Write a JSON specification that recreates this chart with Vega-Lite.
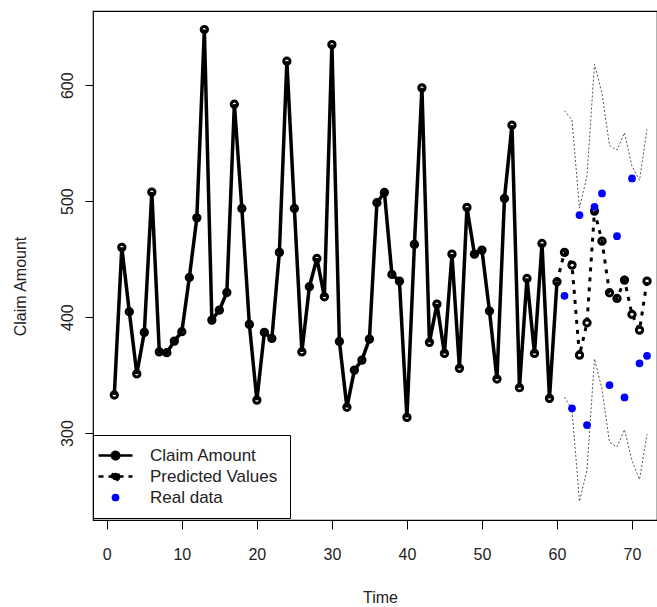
{
  "$schema": "https://vega.github.io/schema/vega-lite/v6.json",
  "width": 564,
  "height": 509,
  "autosize": {"type": "none"},
  "padding": {"left": 93, "top": 11, "right": 0, "bottom": 87},
  "background": "white",
  "config": {
    "view": {"stroke": "black", "strokeWidth": 1.2},
    "font": "Liberation Sans"
  },
  "datasets": {
    "d": [
      {"t": 1, "series": "Claim Amount", "v": 332.8},
      {"t": 2, "series": "Claim Amount", "v": 460.1},
      {"t": 3, "series": "Claim Amount", "v": 404.6},
      {"t": 4, "series": "Claim Amount", "v": 351},
      {"t": 5, "series": "Claim Amount", "v": 386.8},
      {"t": 6, "series": "Claim Amount", "v": 507.8},
      {"t": 7, "series": "Claim Amount", "v": 370},
      {"t": 8, "series": "Claim Amount", "v": 369.3},
      {"t": 9, "series": "Claim Amount", "v": 379.3},
      {"t": 10, "series": "Claim Amount", "v": 387.4},
      {"t": 11, "series": "Claim Amount", "v": 434.2},
      {"t": 12, "series": "Claim Amount", "v": 485.6},
      {"t": 13, "series": "Claim Amount", "v": 648},
      {"t": 14, "series": "Claim Amount", "v": 397.4},
      {"t": 15, "series": "Claim Amount", "v": 406},
      {"t": 16, "series": "Claim Amount", "v": 421.2},
      {"t": 17, "series": "Claim Amount", "v": 583.6},
      {"t": 18, "series": "Claim Amount", "v": 493.7},
      {"t": 19, "series": "Claim Amount", "v": 393.7},
      {"t": 20, "series": "Claim Amount", "v": 328.4},
      {"t": 21, "series": "Claim Amount", "v": 386.8},
      {"t": 22, "series": "Claim Amount", "v": 381.6},
      {"t": 23, "series": "Claim Amount", "v": 455.8},
      {"t": 24, "series": "Claim Amount", "v": 620.7},
      {"t": 25, "series": "Claim Amount", "v": 493.7},
      {"t": 26, "series": "Claim Amount", "v": 370},
      {"t": 27, "series": "Claim Amount", "v": 426.2},
      {"t": 28, "series": "Claim Amount", "v": 450.6},
      {"t": 29, "series": "Claim Amount", "v": 417.5},
      {"t": 30, "series": "Claim Amount", "v": 635},
      {"t": 31, "series": "Claim Amount", "v": 379},
      {"t": 32, "series": "Claim Amount", "v": 322.2},
      {"t": 33, "series": "Claim Amount", "v": 354.3},
      {"t": 34, "series": "Claim Amount", "v": 362.9},
      {"t": 35, "series": "Claim Amount", "v": 381},
      {"t": 36, "series": "Claim Amount", "v": 498.6},
      {"t": 37, "series": "Claim Amount", "v": 507.5},
      {"t": 38, "series": "Claim Amount", "v": 436.8},
      {"t": 39, "series": "Claim Amount", "v": 431},
      {"t": 40, "series": "Claim Amount", "v": 313.5},
      {"t": 41, "series": "Claim Amount", "v": 462.7},
      {"t": 42, "series": "Claim Amount", "v": 597.7},
      {"t": 43, "series": "Claim Amount", "v": 378.2},
      {"t": 44, "series": "Claim Amount", "v": 411.2},
      {"t": 45, "series": "Claim Amount", "v": 368.7},
      {"t": 46, "series": "Claim Amount", "v": 454.3},
      {"t": 47, "series": "Claim Amount", "v": 355.8},
      {"t": 48, "series": "Claim Amount", "v": 494.6},
      {"t": 49, "series": "Claim Amount", "v": 454.3},
      {"t": 50, "series": "Claim Amount", "v": 457.8},
      {"t": 51, "series": "Claim Amount", "v": 405.2},
      {"t": 52, "series": "Claim Amount", "v": 346.6},
      {"t": 53, "series": "Claim Amount", "v": 502.3},
      {"t": 54, "series": "Claim Amount", "v": 565.5},
      {"t": 55, "series": "Claim Amount", "v": 339.1},
      {"t": 56, "series": "Claim Amount", "v": 433.3},
      {"t": 57, "series": "Claim Amount", "v": 368.7},
      {"t": 58, "series": "Claim Amount", "v": 463.5},
      {"t": 59, "series": "Claim Amount", "v": 329.9},
      {"t": 60, "series": "Claim Amount", "v": 430.5},
      {"t": 60, "series": "Predicted Values", "v": 430.5},
      {"t": 61, "series": "Predicted Values", "v": 455.8},
      {"t": 62, "series": "Predicted Values", "v": 444.8},
      {"t": 63, "series": "Predicted Values", "v": 367.2},
      {"t": 64, "series": "Predicted Values", "v": 395.1},
      {"t": 65, "series": "Predicted Values", "v": 491.4},
      {"t": 66, "series": "Predicted Values", "v": 465.5},
      {"t": 67, "series": "Predicted Values", "v": 421},
      {"t": 68, "series": "Predicted Values", "v": 416.1},
      {"t": 69, "series": "Predicted Values", "v": 431.9},
      {"t": 70, "series": "Predicted Values", "v": 402.3},
      {"t": 71, "series": "Predicted Values", "v": 388.8},
      {"t": 72, "series": "Predicted Values", "v": 431},
      {"t": 61, "series": "Real data", "v": 418.4},
      {"t": 62, "series": "Real data", "v": 321.3},
      {"t": 63, "series": "Real data", "v": 488},
      {"t": 64, "series": "Real data", "v": 306.9},
      {"t": 65, "series": "Real data", "v": 495.1},
      {"t": 66, "series": "Real data", "v": 506.6},
      {"t": 67, "series": "Real data", "v": 341.4},
      {"t": 68, "series": "Real data", "v": 469.8},
      {"t": 69, "series": "Real data", "v": 330.7},
      {"t": 70, "series": "Real data", "v": 519.6},
      {"t": 71, "series": "Real data", "v": 360.1},
      {"t": 72, "series": "Real data", "v": 366.6},
      {"t": 61, "series": "Upper", "v": 578},
      {"t": 62, "series": "Upper", "v": 570},
      {"t": 63, "series": "Upper", "v": 494},
      {"t": 64, "series": "Upper", "v": 522},
      {"t": 65, "series": "Upper", "v": 618},
      {"t": 66, "series": "Upper", "v": 593},
      {"t": 67, "series": "Upper", "v": 548},
      {"t": 68, "series": "Upper", "v": 544},
      {"t": 69, "series": "Upper", "v": 559},
      {"t": 70, "series": "Upper", "v": 530},
      {"t": 71, "series": "Upper", "v": 518},
      {"t": 72, "series": "Upper", "v": 562},
      {"t": 61, "series": "Lower", "v": 331},
      {"t": 62, "series": "Lower", "v": 320},
      {"t": 63, "series": "Lower", "v": 241},
      {"t": 64, "series": "Lower", "v": 268},
      {"t": 65, "series": "Lower", "v": 364},
      {"t": 66, "series": "Lower", "v": 338},
      {"t": 67, "series": "Lower", "v": 292},
      {"t": 68, "series": "Lower", "v": 288},
      {"t": 69, "series": "Lower", "v": 303},
      {"t": 70, "series": "Lower", "v": 276},
      {"t": 71, "series": "Lower", "v": 260},
      {"t": 72, "series": "Lower", "v": 299}
    ]
  },
  "data": {"name": "d"},
  "encoding": {
    "x": {
      "field": "t",
      "type": "quantitative",
      "scale": {"domain": [-1.84, 73.33], "nice": false, "zero": false},
      "axis": {
        "values": [0, 10, 20, 30, 40, 50, 60, 70],
        "grid": false,
        "domain": false,
        "tickSize": 9,
        "tickColor": "black",
        "tickWidth": 1,
        "labelFontSize": 16,
        "labelColor": "#222",
        "labelPadding": 17,
        "labelFlush": false,
        "labelOverlap": false,
        "title": "Time",
        "titleFontSize": 16,
        "titleFontWeight": "normal",
        "titleColor": "#222",
        "titleX": 287,
        "titleY": 69,
        "titleBaseline": "top",
        "titleAlign": "center"
      }
    },
    "y": {
      "field": "v",
      "type": "quantitative",
      "scale": {"domain": [225, 664], "nice": false, "zero": false},
      "axis": {
        "values": [300, 400, 500, 600],
        "grid": false,
        "domain": false,
        "tickSize": 8,
        "tickColor": "black",
        "tickWidth": 1,
        "labelFontSize": 16,
        "labelColor": "#222",
        "labelAngle": 270,
        "labelAlign": "center",
        "labelBaseline": "bottom",
        "labelPadding": 10,
        "labelOverlap": false,
        "title": "Claim Amount",
        "titleFontSize": 16,
        "titleFontWeight": "normal",
        "titleColor": "#222",
        "titleAngle": 270,
        "titleAlign": "center",
        "titleBaseline": "bottom",
        "titleX": -65,
        "titleY": 275
      }
    }
  },
  "layer": [
    {
      "transform": [{"filter": "datum.series === 'Upper' || datum.series === 'Lower'"}],
      "mark": {"type": "line", "color": "#444", "strokeWidth": 0.9, "strokeDash": [2, 2]},
      "encoding": {"detail": {"field": "series", "type": "nominal"}}
    },
    {
      "transform": [{"filter": "datum.series === 'Claim Amount'"}],
      "mark": {"type": "line", "strokeWidth": 3.5},
      "encoding": {
        "color": {
          "field": "series",
          "type": "nominal",
          "scale": {"domain": ["Claim Amount", "Predicted Values", "Real data"], "range": ["black", "black", "blue"]},
          "legend": {
            "title": null,
            "orient": "none",
            "legendX": 0,
            "legendY": 424,
            "padding": 12,
            "strokeColor": "black",
            "fillColor": "white",
            "labelFontSize": 17,
            "labelColor": "#222",
            "labelOffset": 26,
            "symbolOffset": 2,
            "rowPadding": 2,
            "symbolStrokeWidth": 2.5,
            "encode": {
              "symbols": {
                "update": {
                  "shape": {"signal": "datum.value === 'Real data' ? 'circle' : 'M-1,0H1M0.22,0A0.22,0.22,0,1,1,-0.22,0A0.22,0.22,0,1,1,0.22,0'"},
                  "size": {"signal": "datum.value === 'Real data' ? 60 : 1156"},
                  "strokeDash": {"signal": "datum.value === 'Predicted Values' ? [5, 5] : [1, 0]"},
                  "fill": {"signal": "datum.value === 'Real data' ? 'blue' : 'black'"},
                  "stroke": {"signal": "datum.value === 'Real data' ? 'blue' : 'black'"},
                  "strokeWidth": {"signal": "datum.value === 'Real data' ? 0 : 2.5"},
                  "opacity": {"value": 1}
                }
              }
            }
          }
        }
      }
    },
    {
      "transform": [{"filter": "datum.series === 'Claim Amount'"}],
      "mark": {"type": "point", "filled": false, "shape": "circle", "size": 40, "strokeWidth": 3, "color": "black", "opacity": 1}
    },
    {
      "transform": [{"filter": "datum.series === 'Predicted Values'"}],
      "mark": {"type": "line", "strokeWidth": 3, "strokeDash": [4, 6]},
      "encoding": {"color": {"field": "series", "type": "nominal"}}
    },
    {
      "transform": [{"filter": "datum.series === 'Predicted Values' && datum.t > 60"}],
      "mark": {"type": "point", "filled": false, "shape": "circle", "size": 40, "strokeWidth": 3, "color": "black", "opacity": 1}
    },
    {
      "transform": [{"filter": "datum.series === 'Real data'"}],
      "mark": {"type": "circle", "size": 60, "opacity": 1},
      "encoding": {"color": {"field": "series", "type": "nominal"}}
    }
  ]
}
